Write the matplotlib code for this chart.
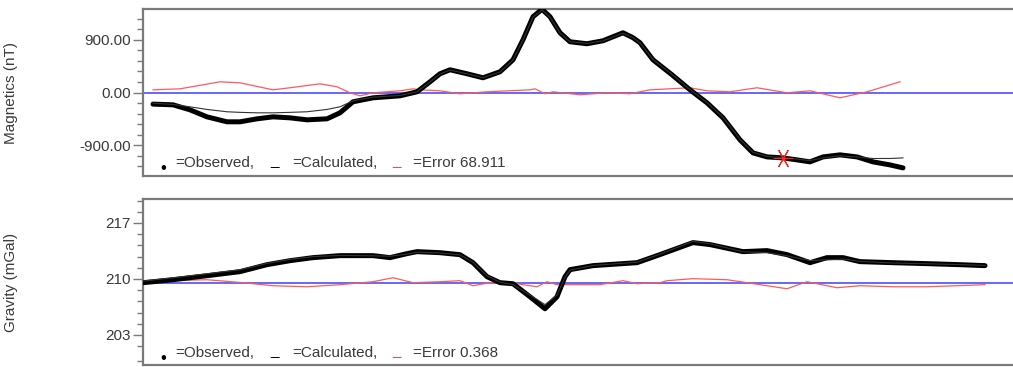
import matplotlib
matplotlib.use("Agg")
import matplotlib.pyplot as plt
from matplotlib.ticker import MultipleLocator, FixedLocator, FormatStrFormatter, NullLocator

plt.rcParams['font.family'] = ['Liberation Sans', 'DejaVu Sans']

# ---------------- Magnetics (top panel) ----------------
mag_x = [153, 173, 190, 207, 227, 240, 257, 273, 290, 307, 327, 340, 353, 373, 400, 417, 430,
         440, 450, 467, 483, 500, 513, 523, 533, 542, 550, 560, 570, 587, 603, 623, 633, 640,
         653, 672, 690, 707, 723, 740, 753, 767, 783, 797, 810, 823, 840, 857, 873, 890, 903]
mag_obs = [-199, -211, -297, -417, -502, -502, -451, -417, -434, -468, -451, -348, -159, -91,
           -57, 12, 183, 321, 389, 321, 252, 355, 560, 903, 1298, 1425, 1298, 1023, 869, 835,
           886, 1023, 938, 852, 560, 303, 46, -177, -434, -811, -1034, -1103, -1120, -1154,
           -1188, -1103, -1068, -1103, -1188, -1240, -1291]
mag_calc = [-182, -205, -245, -290, -330, -340, -348, -348, -340, -330, -290, -245, -142, -80,
            -50, 10, 180, 315, 385, 320, 255, 350, 555, 900, 1290, 1415, 1290, 1020, 870, 840,
            885, 1015, 940, 850, 565, 310, 50, -170, -425, -800, -1025, -1095, -1115, -1140,
            -1165, -1120, -1085, -1105, -1130, -1130, -1120]
mag_err_x = [153, 180, 220, 240, 273, 290, 320, 337, 350, 360, 373, 400, 413, 420, 440, 460,
             487, 530, 535, 545, 553, 580, 607, 630, 650, 690, 707, 730, 757, 787, 810, 840,
             867, 900]
mag_err = [46, 63, 183, 166, 46, 81, 149, 98, -5, -57, -5, 29, 63, 46, 29, -22,
           12, 46, 63, -22, 12, -39, -5, -22, 46, 81, 29, 12, 81, -5, 29, -91,
           12, 183]
mag_star = (783, -1120)
mag_error_label = "68.911"

# ---------------- Gravity (bottom panel) ----------------
grav_x = [140, 173, 207, 240, 267, 290, 313, 340, 373, 390, 407, 417, 440, 460, 473, 487, 500,
          513, 530, 545, 557, 565, 570, 593, 637, 660, 693, 710, 743, 767, 787, 810, 827, 843,
          860, 893, 927, 960, 985]
grav_obs = [209.50, 209.91, 210.41, 210.92, 211.79, 212.29, 212.67, 212.92, 212.92, 212.67,
            213.17, 213.42, 213.29, 213.04, 212.04, 210.29, 209.54, 209.41, 207.78, 206.28,
            207.78, 210.29, 211.17, 211.67, 212.04, 213.05, 214.55, 214.30, 213.42, 213.55,
            213.05, 212.04, 212.67, 212.67, 212.17, 212.04, 211.92, 211.79, 211.67]
grav_calc = [209.7, 210.15, 210.65, 211.15, 211.95, 212.45, 212.8, 212.95, 212.9, 212.85,
             213.1, 213.35, 213.25, 213.0, 212.1, 210.4, 209.6, 209.3, 208.0, 206.8, 208.0,
             210.2, 211.1, 211.7, 212.1, 213.1, 214.7, 214.4, 213.4, 213.3, 212.9, 212.3,
             212.4, 212.5, 212.2, 212.0, 211.9, 211.8, 211.7]
grav_err_x = [140, 207, 240, 273, 307, 340, 373, 393, 413, 440, 460, 473, 490, 517, 537, 547,
              557, 600, 623, 637, 660, 667, 693, 727, 747, 787, 807, 837, 860, 893, 927, 985]
grav_err = [209.70, 209.91, 209.57, 209.16, 209.03, 209.29, 209.66, 210.16, 209.54, 209.66,
            209.79, 209.16, 209.54, 209.41, 209.03, 209.66, 209.29, 209.29, 209.79, 209.41,
            209.54, 209.79, 210.04, 209.91, 209.54, 208.78, 209.66, 208.91, 209.16, 209.03,
            209.03, 209.29]
grav_baseline = 209.5
grav_error_label = "0.368"

W, H = 1013, 367
fig = plt.figure(figsize=(W / 100, H / 100), dpi=100)

def axrect(left, top, right, bottom):
    return [left / W, 1 - bottom / H, (right - left) / W, (bottom - top) / H]

X0, X1 = 143, 1035
ax1 = fig.add_axes(axrect(X0, 9, X1, 176))
ax2 = fig.add_axes(axrect(X0, 199, X1, 365))

spine_col = '#7a7a7a'
text_col = '#3a3a3a'
obs_lw = 3.6

for ax in (ax1, ax2):
    ax.set_xlim(X0, X1)
    ax.xaxis.set_major_locator(NullLocator())
    ax.xaxis.set_minor_locator(NullLocator())
    for s in ax.spines.values():
        s.set_color(spine_col)
        s.set_linewidth(1.6)
    ax.spines['right'].set_visible(False)
    ax.tick_params(axis='y', which='major', length=7, width=1, color=spine_col,
                   labelsize=11, labelcolor=text_col, pad=2)
    ax.tick_params(axis='y', which='minor', length=4, width=1, color=spine_col)

# top panel
ax1.set_ylim(-1430, 1430)
ax1.yaxis.set_major_locator(FixedLocator([-900, 0, 900]))
ax1.yaxis.set_minor_locator(MultipleLocator(180))
ax1.yaxis.set_major_formatter(FormatStrFormatter('%.2f'))
ax1.axhline(0, color='#5a5aff', lw=1.3, zorder=2)
ax1.plot(mag_err_x, mag_err, color='#ff5a5a', lw=0.9, zorder=3)
ax1.plot(mag_x, mag_obs, color='black', lw=obs_lw, solid_capstyle='round',
         solid_joinstyle='round', zorder=4)
ax1.plot(mag_x, mag_calc, color='#333333', lw=0.8, zorder=5)
ax1.plot([mag_star[0]], [mag_star[1]], marker=(6, 2, 90), color='#ff2020', markersize=14,
         mew=0.8, zorder=6)
ax1.set_ylabel('Magnetics (nT)', fontsize=11, color=text_col)
ax1.yaxis.set_label_coords(-125 / (X1 - X0), 0.5)

# bottom panel
ax2.set_ylim(199.25, 220.0)
ax2.yaxis.set_major_locator(FixedLocator([203, 210, 217]))
ax2.yaxis.set_minor_locator(FixedLocator([199.8, 201.6, 203, 204.4, 205.8, 207.2, 208.6, 210,
                                          211.4, 212.8, 214.2, 215.6, 217, 218.4, 219.8]))
ax2.yaxis.set_major_formatter(FormatStrFormatter('%d'))
ax2.axhline(grav_baseline, color='#5a5aff', lw=1.3, zorder=2)
ax2.plot(grav_err_x, grav_err, color='#ff5a5a', lw=0.9, zorder=3)
ax2.plot(grav_x, grav_obs, color='black', lw=obs_lw, solid_capstyle='round',
         solid_joinstyle='round', zorder=4)
ax2.plot(grav_x, grav_calc, color='#333333', lw=0.8, zorder=5)
ax2.set_ylabel('Gravity (mGal)', fontsize=11, color=text_col)
ax2.yaxis.set_label_coords(-125 / (X1 - X0), 0.5)

# legends as text
def fp(x, y):
    return x / W, 1 - y / H

def legend(y, err):
    fig.text(*fp(163, y + 6), '\u2022', fontsize=12, color='black', ha='center', va='center')
    fig.text(*fp(175, y), '=Observed,', fontsize=11, color=text_col, va='center')
    fig.text(*fp(270, y - 2), '_', fontsize=11, color='black', va='center')
    fig.text(*fp(292, y), '=Calculated,', fontsize=11, color=text_col, va='center')
    fig.text(*fp(392, y - 2), '_', fontsize=11, color='#ff4040', va='center')
    fig.text(*fp(413, y), '=Error ' + err, fontsize=11, color=text_col, va='center')

legend(163, mag_error_label)
legend(353, grav_error_label)

fig.savefig('out.png', dpi=100)
